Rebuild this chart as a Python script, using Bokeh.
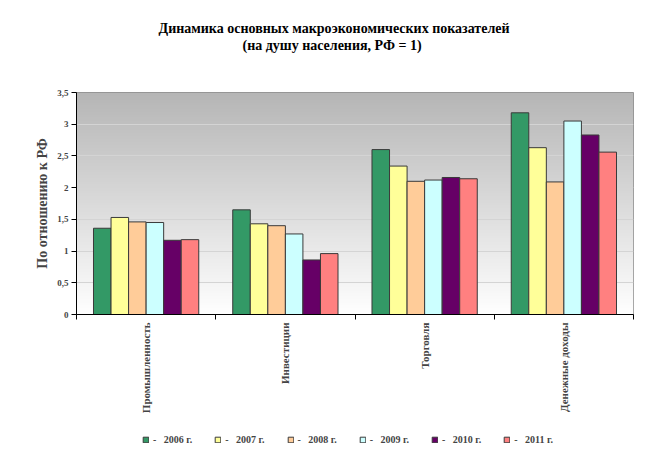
import numpy as np
from bokeh.plotting import figure
from bokeh.layouts import column
from bokeh.models import (Range1d, FixedTicker, Legend, LegendItem, Title)
from bokeh.embed import file_html
from bokeh.resources import INLINE

categories = ["Промышленность", "Инвестиции", "Торговля", "Денежные доходы"]
years = ["2006 г.", "2007 г.", "2008 г.", "2009 г.", "2010 г.", "2011 г."]
colors = ["#339966", "#FFFF99", "#FFCC99", "#CCFFFF", "#660066", "#FF8080"]

v2006 = [1.36, 1.65, 2.60, 3.18]
v2007 = [1.53, 1.43, 2.34, 2.63]
v2008 = [1.46, 1.40, 2.10, 2.09]
v2009 = [1.45, 1.27, 2.12, 3.05]
v2010 = [1.17, 0.86, 2.16, 2.83]
v2011 = [1.18, 0.96, 2.14, 2.56]
series = [v2006, v2007, v2008, v2009, v2010, v2011]

y_ticks = [0, 0.5, 1, 1.5, 2, 2.5, 3, 3.5]
y_tick_labels = ["0", "0,5", "1", "1,5", "2", "2,5", "3", "3,5"]

title_line1 = "Динамика основных макроэкономических показателей"
title_line2 = "(на душу населения, РФ = 1)"
y_label = "По отношению к РФ"

SERIF = "Liberation Serif"

p = figure(width=646, height=424, output_backend="svg", toolbar_location=None,
           x_range=Range1d(0, len(categories)), y_range=Range1d(0, 3.5),
           min_border_left=76, min_border_right=13, min_border_top=92,
           min_border_bottom=110)
p.title = Title(text=title_line1, align="left", offset=82, text_font=SERIF,
                text_font_style="bold", text_font_size="14px",
                text_color="#000000", standoff=0)
# empty spacer panel between the frame and the subtitle
p.add_layout(Title(text="\u00a0", text_font_size="14px", standoff=22), "above")
p.add_layout(Title(text=title_line2, align="left", offset=166, text_font=SERIF,
                   text_font_style="bold", text_font_size="14px",
                   text_color="#000000", standoff=0), "above")

# gradient plot-area background (decoration)
n = 200
shade = np.linspace(255, 182, n).astype(np.uint32)
img = np.zeros((n, 1), dtype=np.uint32)
view = img.view(dtype=np.uint8).reshape((n, 1, 4))
view[:, 0, 0] = shade
view[:, 0, 1] = shade
view[:, 0, 2] = shade
view[:, 0, 3] = 255
p.image_rgba(image=[img], x=0, y=0, dw=len(categories), dh=3.5, level="image")

p.outline_line_color = "#8c8c8c"
p.xgrid.visible = False
p.ygrid.ticker = FixedTicker(ticks=y_ticks)
p.ygrid.grid_line_color = "#d4d4d4"
p.ygrid.grid_line_width = 1

w = 0.126
for j, vals in enumerate(series):
    xs = [i + 0.5 + (j - 2.5) * w for i in range(len(categories))]
    p.vbar(x=xs, top=vals, width=w, bottom=0, fill_color=colors[j],
           line_color="#3a3a3a", line_width=1)

# y axis
ya = p.yaxis[0]
ya.ticker = FixedTicker(ticks=y_ticks)
ya.major_label_overrides = {t: l for t, l in zip(y_ticks, y_tick_labels)}
ya.major_label_text_font = SERIF
ya.major_label_text_font_style = "bold"
ya.major_label_text_font_size = "9px"
ya.major_tick_in = 0
ya.major_tick_out = 5
ya.minor_tick_line_color = None
ya.axis_line_color = "#000000"
ya.major_label_standoff = 3
ya.axis_label = y_label
ya.axis_label_text_font = SERIF
ya.axis_label_text_font_style = "bold"
ya.axis_label_text_font_size = "14px"
ya.axis_label_standoff = 4

# x axis
xa = p.xaxis[0]
centers = [i + 0.5 for i in range(len(categories))]
bounds = [float(i) for i in range(len(categories) + 1)]
xa.ticker = FixedTicker(ticks=centers, minor_ticks=bounds)
xa.major_label_overrides = {c: n_ for c, n_ in zip(centers, categories)}
xa.major_label_orientation = np.pi / 2
xa.major_label_text_font = SERIF
xa.major_label_text_font_style = "bold"
xa.major_label_text_font_size = "11px"
xa.major_tick_line_color = None
xa.major_tick_in = 0
xa.major_tick_out = 0
xa.minor_tick_in = 0
xa.minor_tick_out = 5
xa.minor_tick_line_color = "#000000"
xa.axis_line_color = "#000000"
xa.major_label_standoff = 3

# legend strip below the chart (its frame is aligned with the chart frame)
p2 = figure(width=646, height=26, output_backend="svg", toolbar_location=None,
            x_range=Range1d(0, 1), y_range=Range1d(0, 1),
            x_axis_location=None, y_axis_location=None,
            min_border_left=76, min_border_right=13, min_border_top=0,
            min_border_bottom=0)
p2.grid.visible = False
p2.outline_line_color = None
items = []
for j in range(len(years)):
    # off-range proxy (never visible) so the legend can draw its swatch
    r = p2.vbar(x=[-5], top=[-5], bottom=-6, width=0.1, fill_color=colors[j],
                line_color="#3a3a3a", line_width=1)
    items.append(LegendItem(label="-\u00a0\u00a0\u00a0" + years[j], renderers=[r]))
legend = Legend(items=items, orientation="horizontal", location=(66, 5),
                label_text_font=SERIF, label_text_font_style="bold",
                label_text_font_size="10px", glyph_width=7, glyph_height=7,
                label_standoff=4, spacing=22, padding=4, margin=0,
                border_line_color=None, background_fill_alpha=0,
                label_height=12)
p2.add_layout(legend)

layout = column(p, p2, spacing=0)
open("out.html", "w").write(file_html(layout, INLINE))
